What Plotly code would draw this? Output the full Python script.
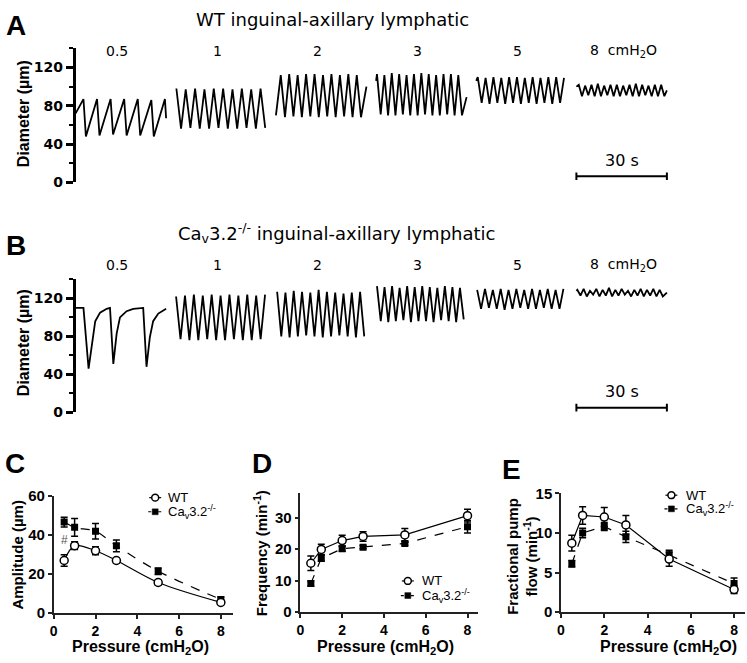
import plotly.graph_objects as go

W, H = 747, 663

# ------------------------------------------------------------------
# DATA
# ------------------------------------------------------------------
step_labels = ["0.5", "1", "2", "3", "5"]
last_label = "8  cmH<sub>2</sub>O"
SEG_LEN = 30.0      # s recorded at each pressure step
SEG_PITCH = 33.2    # s between starts of consecutive steps
scale_bar_s = 30.0

# --- WT diameter traces (µm): peak / trough of every contraction cycle
wt_05_peaks = [87, 87, 87, 87, 87, 86, 87]
wt_05_troughs = [48, 49, 50, 49, 49, 48]
wt_1_peaks = [98, 97, 98, 97, 98, 98, 97, 98, 97, 98]
wt_1_troughs = [56, 57, 56, 56, 57, 56, 56, 57, 56, 57]
wt_2_peaks = [112, 113, 112, 113, 113, 112, 113, 112, 113, 112]
wt_2_troughs = [68, 69, 68, 69, 68, 69, 68, 69, 68, 68]
wt_3_peaks = [113, 112, 114, 113, 112, 113, 114, 113, 112, 113, 113, 112]
wt_3_troughs = [71, 70, 70, 71, 70, 70, 71, 70, 70, 71, 70, 70]
wt_5_peaks = [110, 109, 110, 109, 110, 110, 109, 110, 109, 110, 110, 109]
wt_5_troughs = [83, 82, 83, 82, 83, 82, 83, 82, 83, 82, 83]
wt_8_peaks = [102, 101, 102, 103, 101, 102, 102, 101, 102, 103, 102, 101, 102, 102]
wt_8_troughs = [90, 91, 90, 90, 91, 90, 90, 91, 90, 90, 91, 90, 90, 90]
# timing of each WT step: first peak (s), cycle period (s), fall fraction
wt_first_peak = [2.6, 0.2, 1.6, 0.3, 0.5, 0.8]
wt_period = [4.5, 3.1, 2.8, 2.45, 2.6, 2.1]
wt_fall = [0.18, 0.5, 0.5, 0.5, 0.5, 0.5]
wt_start = [72, None, 70, 106, 106, 100]
wt_end = [67, None, 100, 89, None, 96]

# --- Cav3.2-/- diameter traces (µm)
ko_05_t = [0, 2.6, 4.3, 5.4, 6.5, 8.1, 10.3, 11.4, 12.5, 13.6, 14.7, 16.9,
           19.1, 22.4, 23.5, 24.6, 25.7, 27.4, 30.0]
ko_05_d = [110, 110, 46, 72, 96, 105, 109, 110, 51, 83, 100, 106.5,
           109, 110, 48, 79, 96, 104, 109]
ko_1_peaks = [122, 123, 124, 123, 124, 123, 124, 123, 124, 123, 124]
ko_1_troughs = [77, 76, 76, 77, 76, 76, 77, 76, 76, 77]
ko_2_peaks = [127, 126, 128, 127, 126, 129, 127, 126, 125, 126, 127]
ko_2_troughs = [80, 79, 80, 81, 80, 79, 80, 81, 80, 79, 80]
ko_3_peaks = [133, 132, 133, 131, 133, 132, 133, 132, 131, 133, 132, 131]
ko_3_troughs = [96, 95, 96, 97, 95, 96, 96, 95, 97, 96, 95, 98]
ko_5_peaks = [129, 130, 129, 130, 129, 130, 129, 130, 129, 130, 129, 130]
ko_5_troughs = [109, 110, 109, 108, 109, 110, 109, 109, 110, 109, 109]
ko_8_peaks = [129, 130, 128, 130, 129, 131, 129, 130, 128, 129, 130, 129, 130, 129]
ko_8_troughs = [123, 122, 124, 122, 123, 122, 123, 124, 122, 123, 122, 123, 122, 122]
ko_first_peak = [None, 0.1, 0.4, 0.3, 0.3, 0.3]
ko_period = [None, 2.95, 2.75, 2.5, 2.6, 2.1]
ko_fall = [None, 0.5, 0.5, 0.5, 0.5, 0.5]
ko_start = [None, None, None, None, None, 128]
ko_end = [None, None, None, None, None, 126]

# --- summary data
pressure = [0.5, 1, 2, 3, 5, 8]
amp_wt = [27, 34.6, 32, 27, 15.7, 5.5]
amp_wt_err = [3, 2, 2, 1.3, 1.3, 0.8]
amp_ko = [46.7, 44, 42, 34.5, 21.5, 7]
amp_ko_err = [2.5, 4.5, 4, 3, 1.7, 1.2]
freq_wt = [15.5, 19.9, 22.7, 24.0, 24.5, 30.6]
freq_wt_err = [2.3, 1.6, 1.7, 1.5, 2, 2]
freq_ko = [9.1, 17.1, 20.1, 20.6, 21.8, 27.1]
freq_ko_err = [0.8, 1, 0.8, 0.5, 0.6, 2]
fpf_wt = [8.7, 12.2, 12.0, 11.0, 6.7, 2.85]
fpf_wt_err = [1, 1.1, 1.2, 1.2, 0.9, 0.5]
fpf_ko = [6.1, 10.0, 10.8, 9.5, 7.2, 3.6]
fpf_ko_err = [0.4, 0.6, 0.5, 0.7, 0.6, 0.7]

# ------------------------------------------------------------------
ARIAL = "Liberation Sans, Arial, sans-serif"
WIDE = "DejaVu Sans, sans-serif"


def px(v):
    return v / W


def py(v):
    return 1 - v / H


def osc(t1, period, fall, peaks, troughs, start=None, end=None):
    t, y = [], []
    if start is not None:
        t.append(0.0)
        y.append(start)
    for k, p in enumerate(peaks):
        tp = t1 + k * period
        t.append(tp)
        y.append(p)
        if k < len(troughs):
            t.append(tp + fall * period)
            y.append(troughs[k])
    if end is not None:
        t.append(SEG_LEN)
        y.append(end)
    return t, y


fig = go.Figure()

wt_segs = [(wt_05_peaks, wt_05_troughs), (wt_1_peaks, wt_1_troughs),
           (wt_2_peaks, wt_2_troughs), (wt_3_peaks, wt_3_troughs),
           (wt_5_peaks, wt_5_troughs), (wt_8_peaks, wt_8_troughs)]
for i, (pk, tr) in enumerate(wt_segs):
    t, y = osc(wt_first_peak[i], wt_period[i], wt_fall[i], pk, tr,
               wt_start[i], wt_end[i])
    fig.add_trace(go.Scatter(x=[v + i * SEG_PITCH for v in t], y=y, mode="lines",
                             line=dict(color="black", width=1.8),
                             xaxis="x", yaxis="y", showlegend=False,
                             hoverinfo="skip"))

ko_segs = [None, (ko_1_peaks, ko_1_troughs), (ko_2_peaks, ko_2_troughs),
           (ko_3_peaks, ko_3_troughs), (ko_5_peaks, ko_5_troughs),
           (ko_8_peaks, ko_8_troughs)]
for i, seg in enumerate(ko_segs):
    if seg is None:
        t, y = ko_05_t, ko_05_d
    else:
        t, y = osc(ko_first_peak[i], ko_period[i], ko_fall[i], seg[0], seg[1],
                   ko_start[i], ko_end[i])
    fig.add_trace(go.Scatter(x=[v + i * SEG_PITCH for v in t], y=y, mode="lines",
                             line=dict(color="black", width=1.8),
                             xaxis="x2", yaxis="y2", showlegend=False,
                             hoverinfo="skip"))

# summary panels
KO_NAME = "Ca<sub>v</sub>3.2<sup>-/-</sup>"
panels = [("x3", "y3", amp_wt, amp_wt_err, amp_ko, amp_ko_err, "spline"),
          ("x4", "y4", freq_wt, freq_wt_err, freq_ko, freq_ko_err, "linear"),
          ("x5", "y5", fpf_wt, fpf_wt_err, fpf_ko, fpf_ko_err, "linear")]
for xa, ya, w, we, k, ke, shape in panels:
    fig.add_trace(go.Scatter(
        x=pressure, y=k, mode="lines+markers", name="Cav3.2-/-", showlegend=False,
        line=dict(color="black", width=1.2, dash="dash", shape=shape, smoothing=0.9),
        marker=dict(symbol="square", size=7, color="black"),
        error_y=dict(type="data", array=ke, color="black", thickness=1.5, width=3.5),
        xaxis=xa, yaxis=ya))
    fig.add_trace(go.Scatter(
        x=pressure, y=w, mode="lines+markers", name="WT", showlegend=False,
        line=dict(color="black", width=1.2, shape=shape, smoothing=0.9),
        marker=dict(symbol="circle", size=8, color="white",
                    line=dict(color="black", width=1.5)),
        error_y=dict(type="data", array=we, color="black", thickness=1.5, width=3.5),
        xaxis=xa, yaxis=ya))

# ------------------------------------------------------------------
# axes
trace_y = dict(range=[0, 140], showline=True, linewidth=2.5, linecolor="black",
               ticks="outside", tickvals=[0, 40, 80, 120], ticklen=7, tickwidth=2.5,
               tickcolor="black",
               minor=dict(tickvals=[20, 60, 100, 140], ticks="outside", ticklen=4,
                          tickwidth=2, tickcolor="black"),
               tickfont=dict(family=WIDE, size=14, color="black", weight="bold"),
               showgrid=False, zeroline=False, fixedrange=True)
trace_x = dict(range=[0, 197], domain=[px(72), px(669.5)], visible=False,
               fixedrange=True)

sum_x = dict(showline=True, linewidth=1.5, linecolor="#222", ticks="outside",
             ticklen=4, tickwidth=1.5, tickcolor="#222", tickvals=[0, 2, 4, 6, 8],
             tickfont=dict(family=ARIAL, size=14, color="black", weight="bold"),
             showgrid=False, zeroline=False, fixedrange=True)
sum_y = dict(showline=True, linewidth=1.5, linecolor="#222", ticks="outside",
             ticklen=4, tickwidth=1.5, tickcolor="#222",
             tickfont=dict(family=ARIAL, size=15, color="black", weight="bold"),
             showgrid=False, zeroline=False, fixedrange=True)

fig.update_layout(
    width=W, height=H, autosize=False, showlegend=False,
    margin=dict(l=0, r=0, t=0, b=0),
    paper_bgcolor="white", plot_bgcolor="white",
    xaxis=dict(trace_x, anchor="y"),
    yaxis=dict(trace_y, domain=[py(178), py(40.3)], anchor="x"),
    xaxis2=dict(trace_x, anchor="y2"),
    yaxis2=dict(trace_y, domain=[py(414), py(277.5)], anchor="x2"),
    xaxis3=dict(sum_x, domain=[px(50), px(230)], range=[0, 8.571], anchor="y3"),
    yaxis3=dict(sum_y, domain=[py(620), py(500)], range=[0, 60],
                tickvals=[0, 20, 40, 60], anchor="x3"),
    xaxis4=dict(sum_x, domain=[px(298), px(477)], range=[0, 8.524], anchor="y4"),
    yaxis4=dict(sum_y, domain=[py(619), py(497)], range=[0, 37.7],
                tickvals=[0, 10, 20, 30], anchor="x4"),
    xaxis5=dict(sum_x, domain=[px(560), px(745)], range=[0, 8.506], anchor="y5"),
    yaxis5=dict(sum_y, domain=[py(619), py(497)], range=[0, 15],
                tickvals=[0, 5, 10, 15], anchor="x5"),
)

# ------------------------------------------------------------------
# text
ann = []
shapes = []


def txt(text, x, y, size, family=ARIAL, bold=False, xref="paper", yref="paper",
        xanchor="center", yanchor="middle", angle=0, color="black"):
    ann.append(dict(text=text, x=x, y=y, xref=xref, yref=yref, showarrow=False,
                    xanchor=xanchor, yanchor=yanchor, textangle=angle,
                    font=dict(family=family, size=size, color=color,
                              weight="bold" if bold else "normal")))


# panel letters
txt("A", px(12), py(17), 28, bold=True)
txt("B", px(12), py(243), 28, bold=True)
txt("C", px(11), py(466), 28, bold=True)
txt("D", px(259), py(466), 28, bold=True)
txt("E", px(510), py(473), 28, bold=True)

# titles
txt("WT inguinal-axillary lymphatic", px(330), py(11), 18, family=WIDE)
txt("Ca<sub>v</sub>3.2<sup>-/-</sup> inguinal-axillary lymphatic", px(334), py(230),
    18, family=WIDE)

# step labels
for row_y, xr in ((43, "x"), (263, "x2")):
    for i, lab in enumerate(step_labels):
        txt(lab, i * SEG_PITCH + 13.8, py(row_y), 14, family=WIDE, xref=xr)
    txt(last_label, 5 * SEG_PITCH + 4.0, py(row_y), 14, family=WIDE, xref=xr,
        xanchor="left")

# scale bars
for xr, yr, yb, ty in (("x", "y", 6.5, 155), ("x2", "y2", 5.0, 393)):
    x0 = 5 * SEG_PITCH
    x1 = x0 + scale_bar_s
    ln = dict(color="black", width=2)
    shapes.append(dict(type="line", xref=xr, yref=yr, x0=x0, x1=x1, y0=yb, y1=yb, line=ln))
    shapes.append(dict(type="line", xref=xr, yref=yr, x0=x0, x1=x0, y0=yb - 4, y1=yb + 4, line=ln))
    shapes.append(dict(type="line", xref=xr, yref=yr, x0=x1, x1=x1, y0=yb - 4, y1=yb + 4, line=ln))
    txt("30 s", (x0 + x1) / 2, py(ty), 16, family=WIDE, xref=xr)

# axis titles
txt("Diameter (µm)", px(19), py(107), 16, bold=True, angle=-90)
txt("Diameter (µm)", px(19), py(342), 16, bold=True, angle=-90)
txt("Amplitude (µm)", px(14), py(560), 15, bold=True, angle=-90)
txt("Frequency (min<sup>-1</sup>)", px(258), py(559), 15, bold=True, angle=-90)
txt("Fractional pump<br>flow (min<sup>-1</sup>)", px(521), py(562), 15, bold=True,
    angle=-90)
for cx in (137, 384, 668):
    txt("Pressure (cmH<sub>2</sub>O)", px(cx), py(655), 16, bold=True)

# significance mark
txt("#", 0.5, 37.5, 12, xref="x3", yref="y3", color="#555")

# legends (symbol + label), one per summary panel
legend_pos = [(152, 501.5, 516, 163), (406, 587, 602, 418), (671, 499, 513, 684)]
for cx, y_wt, y_ko, tx in legend_pos:
    lw = dict(color="black", width=1.2)
    shapes.append(dict(type="line", xref="paper", yref="paper", x0=px(cx - 6),
                       x1=px(cx + 6), y0=py(y_wt), y1=py(y_wt), line=lw))
    shapes.append(dict(type="circle", xref="paper", yref="paper", x0=px(cx - 3.5),
                       x1=px(cx + 3.5), y0=py(y_wt + 3.5), y1=py(y_wt - 3.5),
                       fillcolor="white", line=dict(color="black", width=1.5)))
    shapes.append(dict(type="line", xref="paper", yref="paper", x0=px(cx - 7),
                       x1=px(cx + 8), y0=py(y_ko), y1=py(y_ko),
                       line=dict(color="black", width=1.2, dash="3px,2px")))
    shapes.append(dict(type="rect", xref="paper", yref="paper", x0=px(cx - 3),
                       x1=px(cx + 3), y0=py(y_ko + 3), y1=py(y_ko - 3),
                       fillcolor="black", line=dict(color="black", width=0.5)))
    txt("WT", px(tx), py(y_wt), 13, xanchor="left")
    txt(KO_NAME, px(tx), py(y_ko), 13, xanchor="left")

fig.update_layout(annotations=ann, shapes=shapes)
fig.write_html("out.html", config={"displayModeBar": False},
               post_script="document.body.style.margin='0px';"
                           "document.body.style.overflow='hidden';")
